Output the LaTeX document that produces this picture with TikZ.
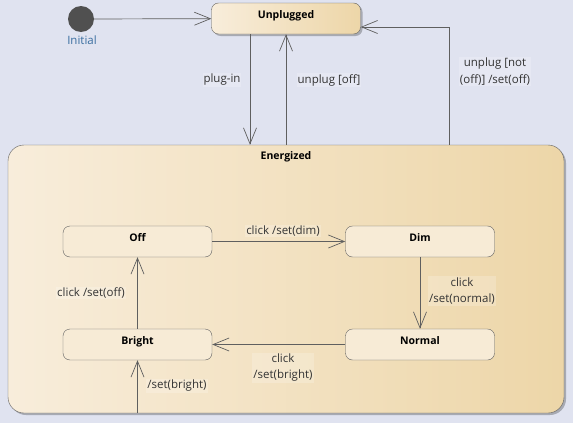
\documentclass[tikz,border=0pt]{standalone}
\usepackage{fontspec}
\setmainfont{Open Sans}
\usetikzlibrary{arrows.meta,shadows}

\definecolor{bgblue}{RGB}{224,227,240}
\definecolor{cream}{RGB}{248,237,219}
\definecolor{midcream}{RGB}{245,231,206}
\definecolor{tan}{RGB}{237,214,168}
\definecolor{statefill}{RGB}{247,235,214}
\definecolor{linegray}{RGB}{95,95,95}
\definecolor{initgray}{RGB}{80,80,80}
\definecolor{initblue}{RGB}{58,110,160}

\begin{document}
\begin{tikzpicture}[x=1pt,y=-1pt,
  state/.style={draw=linegray,fill=statefill,rounded corners=7pt,
    minimum width=149pt,minimum height=31pt,inner sep=0pt,
    text height=7pt,text depth=8pt,font=\bfseries\fontsize{10.5}{12}\selectfont},
  shade/.style={drop shadow={shadow xshift=2pt,shadow yshift=-2pt,opacity=0.25,fill=black}},
  trans/.style={draw=linegray,line width=0.7pt,-{Straight Barb[length=16pt,width=13pt]}},
  note/.style={font=\fontsize{11.5}{16.5}\selectfont,text=black!80,align=center,
    inner sep=1pt,fill=white,fill opacity=0.2,text opacity=1}]

\fill[bgblue] (0,0) rectangle (573,423);
\useasboundingbox (0,0) rectangle (573,423);

% STATES
\node[draw=linegray,rounded corners=16pt,minimum width=556pt,minimum height=268pt,
  left color=cream,middle color=midcream,right color=tan,shade] (energized) at (286,279) {};
\node[font=\bfseries\fontsize{10.5}{12}\selectfont] (energizedlbl) at (286,157) {Energized};

\node[state,left color=cream,right color=tan,shade] (unplugged) at (286,18.5) {Unplugged};

\node[circle,fill=initgray,minimum size=26pt,inner sep=0pt] (init) at (81,19) {};
\node[text=initblue,font=\fontsize{11.5}{12}\selectfont] (initlbl) at (82,40) {Initial};

\node[state] (off)    at (137.5,241.5) {Off};
\node[state] (dim)    at (420,241.5)   {Dim};
\node[state] (normal) at (420,344.5)   {Normal};
\node[state] (bright) at (137.5,344.5) {Bright};


% ARROWS

\draw[trans] (init) -- (unplugged);
\draw[trans] ([xshift=-36pt]unplugged.south) -- ([xshift=-36pt]energized.north);
\draw[trans] (energized.north) -- (unplugged.south);
\draw[trans] ([xshift=163pt]energized.north) |- ([yshift=-8.5pt]unplugged.east);

\draw[trans] (off) -- (dim);
\draw[trans] (dim) -- (normal);
\draw[trans] (normal) -- (bright);
\draw[trans] (bright) -- (off);
\draw[trans] (bright |- energized.south) -- (bright);


% NOTES
\node[note] (plugin)   at (222,80)  {plug-in};
\node[note] (unplugoff) at (329,80) {unplug [off]};
\node[note] (unplugnot) at (495,71.5) {unplug [not\\(off)] /set(off)};
\node[note] (clickdim)  at (283,231) {click /set(dim)};
\node[note] (clicknorm) at (462,291) {click\\/set(normal)};
\node[note] (clickbri)  at (283,367.5) {click\\/set(bright)};
\node[note] (clickoff)  at (91,293) {click /set(off)};
\node[note] (setbri)    at (177,386) {/set(bright)};

\end{tikzpicture}
\end{document}
